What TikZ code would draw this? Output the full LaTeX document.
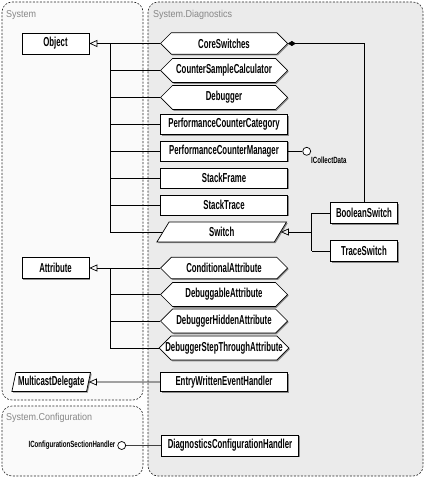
\documentclass[tikz,border=0pt]{standalone}
\usepackage{fontspec}
\setmainfont{Liberation Sans}[FakeStretch=0.6]
\newfontfamily\lblfont{Liberation Sans}[FakeStretch=0.68]
\newfontfamily\grpfont{Liberation Sans}[FakeStretch=0.9]
\usetikzlibrary{shapes.misc,shapes.geometric,arrows.meta,shadows}
\definecolor{diagbg}{RGB}{235,235,235}
\definecolor{sysbg}{RGB}{250,250,250}
\definecolor{grptext}{RGB}{135,135,135}
\tikzset{
  frame/.style={draw=black!85, line width=0.6pt, dash pattern=on 2pt off 1.5pt, rounded corners=10pt},
  grplabel/.style={anchor=west, text=grptext, font=\grpfont\fontsize{10}{12}\selectfont, inner sep=0pt},
  cls/.style={draw=black, fill=white, line width=0.7pt, minimum width=127pt, minimum height=20pt,
    inner sep=0pt, font=\bfseries\fontsize{13}{15}\selectfont,
    drop shadow={shadow xshift=1.2pt, shadow yshift=-1.2pt, fill=black!45, opacity=1}},
  chm/.style={cls, chamfered rectangle, chamfered rectangle xsep=8pt, chamfered rectangle ysep=6pt},
  para/.style={cls, trapezium, trapezium left angle=73, trapezium right angle=107, trapezium stretches=true},
  lolli/.style={circle, draw=black, fill=white, line width=0.7pt, minimum size=8pt, inner sep=0pt},
  smalltext/.style={font=\lblfont\bfseries\fontsize{9}{10}\selectfont, inner sep=0pt},
  conn/.style={draw=black, line width=0.7pt},
  inh/.style={conn, -{Triangle[open, length=8pt, width=7pt]}},
}
\begin{document}
\begin{tikzpicture}[x=1pt,y=-1pt]
\useasboundingbox (0,0) rectangle (425,478);
% frames
\draw[frame, fill=sysbg] (2,2) rectangle (143,400);
\draw[frame, fill=diagbg] (148,2) rectangle (423,476);
\draw[frame, fill=sysbg] (2,406) rectangle (143,476);
\node[grplabel] (lsys) at (6,15) {System};
\node[grplabel] (ldiag) at (153,15) {System.Diagnostics};
\node[grplabel] (lconf) at (6,418) {System.Configuration};

% System nodes
\node[cls, minimum width=67pt, minimum height=21pt] (Object) at (55.5,43.5) {Object};
\node[cls, minimum width=67pt, minimum height=21pt] (Attribute) at (55.5,268) {Attribute};
\node[para, minimum width=79pt, minimum height=19pt] (MulticastDelegate) at (51.2,382) {MulticastDelegate};

% Diagnostics nodes
\node[chm] (CoreSwitches) at (224,43.5) {CoreSwitches};
\node[chm] (CounterSampleCalculator) at (224,70.5) {CounterSampleCalculator};
\node[chm] (Debugger) at (224,97.5) {Debugger};
\node[cls] (PerformanceCounterCategory) at (224,124.5) {PerformanceCounterCategory};
\node[cls] (PerformanceCounterManager) at (224,151.3) {PerformanceCounterManager};
\node[cls] (StackFrame) at (224,178) {StackFrame};
\node[cls] (StackTrace) at (224,205) {StackTrace};
\node[para, minimum width=130pt] (Switch) at (221.7,232) {Switch};
\node[cls, minimum width=67pt, minimum height=21pt] (BooleanSwitch) at (364,213) {BooleanSwitch};
\node[cls, minimum width=67pt, minimum height=21pt] (TraceSwitch) at (364,251) {TraceSwitch};

\node[chm, minimum height=19pt] (ConditionalAttribute) at (224,268) {ConditionalAttribute};
\node[chm, minimum height=19pt] (DebuggableAttribute) at (224,294.5) {DebuggableAttribute};
\node[chm, minimum height=19pt] (DebuggerHiddenAttribute) at (224,321) {DebuggerHiddenAttribute};
\node[chm, minimum height=19pt] (DebuggerStepThroughAttribute) at (224,348) {DebuggerStepThroughAttribute};
\node[cls, minimum height=19pt] (EntryWrittenEventHandler) at (224,382) {EntryWrittenEventHandler};
\node[cls, minimum width=137pt, minimum height=21pt] (DiagnosticsConfigurationHandler) at (230,445.5) {DiagnosticsConfigurationHandler};

% lollipops
\node[lolli] (ICD) at (306.7,151.3) {};
\node[smalltext, anchor=west] (ICDlabel) at (311,160.5) {ICollectData};
\node[lolli] (ICSH) at (121.7,445.5) {};
\node[smalltext, anchor=east] (ICSHlabel) at (115.5,445.5) {IConfigurationSectionHandler};

% trunks
\coordinate (trunkA) at (110,0);
\coordinate (trunkB) at (311.7,0);

% Object inheritance
\draw[inh] (CoreSwitches.west) -- (Object.east);
\draw[conn] (CoreSwitches.west -| trunkA) -- (Switch.west -| trunkA);
\foreach \n in {CounterSampleCalculator,Debugger,PerformanceCounterCategory,PerformanceCounterManager,StackFrame,StackTrace,Switch}
  \draw[conn] (\n.west) -- (\n.west -| trunkA);

% Attribute inheritance
\draw[inh] (ConditionalAttribute.west) -- (Attribute.east);
\draw[conn] (ConditionalAttribute.west -| trunkA) -- (DebuggerStepThroughAttribute.west -| trunkA);
\foreach \n in {DebuggableAttribute,DebuggerHiddenAttribute,DebuggerStepThroughAttribute}
  \draw[conn] (\n.west) -- (\n.west -| trunkA);

% MulticastDelegate
\draw[inh] (EntryWrittenEventHandler.west) -- (MulticastDelegate.east);

% Switch inheritance
\draw[inh] (Switch.east -| trunkB) -- (Switch.east);
\draw[conn] (BooleanSwitch.west -| trunkB) -- (TraceSwitch.west -| trunkB);
\draw[conn] (BooleanSwitch.west) -- (BooleanSwitch.west -| trunkB);
\draw[conn] (TraceSwitch.west) -- (TraceSwitch.west -| trunkB);

% composition
\draw[conn, {Diamond[length=8pt, width=5pt]}-] (CoreSwitches.east) -| (BooleanSwitch.north);

% interfaces
\draw[conn] (PerformanceCounterManager.east) -- (ICD);
\draw[conn, draw=black!75] (ICSH) -- (DiagnosticsConfigurationHandler.west);
\end{tikzpicture}
\end{document}
